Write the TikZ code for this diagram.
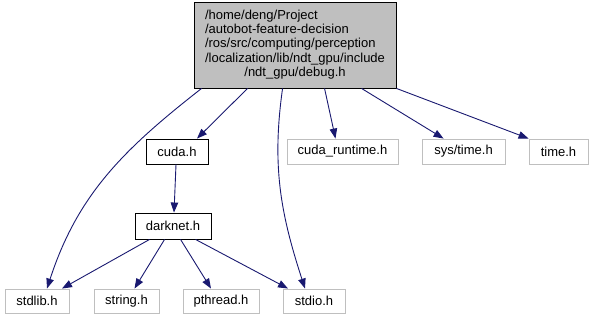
\documentclass[tikz,border=0pt]{standalone}
\usepackage{fontspec}
\setmainfont{Liberation Sans}
\usetikzlibrary{arrows.meta,calc}

\definecolor{edgeblue}{HTML}{191970}
\definecolor{boxgray}{HTML}{BFBFBF}

\tikzset{
  file/.style={draw=black, line width=0.9pt, inner sep=0pt, align=center,
    font=\fontsize{13}{14.4}\selectfont},
  extfile/.style={file, draw=boxgray},
  dep/.style={draw=edgeblue, line width=0.9pt,
    -{Triangle[length=10pt,width=7.5pt]}},
}

\begin{document}
\begin{tikzpicture}[x=1pt,y=1pt]
  \useasboundingbox (0,0) rectangle (593,-320);

  % header being documented
  \node[file, fill=boxgray, minimum width=202, minimum height=86] (main) at (295,-45)
    {\begin{tabular}{@{}l@{}}
      /home/deng/Project\\
      /autobot-feature-decision\\
      /ros/src/computing/perception\\
      /localization/lib/ndt\_gpu/include\\
      \multicolumn{1}{@{}c@{}}{/ndt\_gpu/debug.h}
     \end{tabular}};

  % second row
  \node[file, minimum width=62, minimum height=25] (cuda) at (177,-151.5) {cuda.h};
  \node[extfile, minimum width=111, minimum height=25] (cudart) at (342.5,-151.5) {cuda\_runtime.h};
  \node[extfile, minimum width=83, minimum height=25] (systime) at (463.5,-151.5) {sys/time.h};
  \node[extfile, minimum width=59, minimum height=25] (time) at (558.5,-151.5) {time.h};

  % third row
  \node[file, minimum width=76, minimum height=26] (darknet) at (173,-226) {darknet.h};

  % bottom row
  \node[extfile, minimum width=64, minimum height=24] (stdlib) at (37,-301) {stdlib.h};
  \node[extfile, minimum width=65, minimum height=24] (string) at (126.5,-301) {string.h};
  \node[extfile, minimum width=76, minimum height=24] (pthread) at (221,-301) {pthread.h};
  \node[extfile, minimum width=62, minimum height=24] (stdio) at (314,-301) {stdio.h};

  % includes of debug.h
  \draw[dep] ($(main.south west)+(8,0)$) to[out=218,in=72] ($(stdlib.north)+(10,0)$);
  \draw[dep] ($(main.south west)+(54,0)$) -- ($(cuda.north)+(20,0)$);
  \draw[dep] ($(main.south west)+(89,0)$) to[out=262,in=108] ($(stdio.north)+(-9,0)$);
  \draw[dep] ($(main.south west)+(131,0)$) -- ($(cudart.north)+(-7,0)$);
  \draw[dep] ($(main.south west)+(168,0)$) -- ($(systime.north west)+(22,0)$);
  \draw[dep] (main.south east) -- ($(time.north west)+(0,0)$);

  % includes of cuda.h
  \draw[dep] ($(cuda.south)+(-1,0)$) -- ($(darknet.north)+(1,0)$);

  % includes of darknet.h
  \draw[dep] ($(darknet.south west)+(15,0)$) -- ($(stdlib.north)+(25,0)$);
  \draw[dep] ($(darknet.south west)+(30,0)$) -- ($(string.north)+(8,0)$);
  \draw[dep] ($(darknet.south west)+(46,0)$) -- ($(pthread.north)+(-10,0)$);
  \draw[dep] ($(darknet.south west)+(61,0)$) -- ($(stdio.north)+(-26,0)$);
\end{tikzpicture}
\end{document}
